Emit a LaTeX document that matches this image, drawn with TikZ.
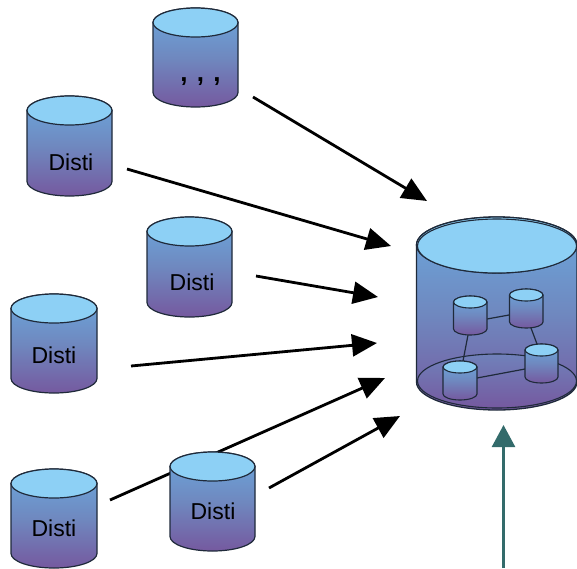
\documentclass[tikz,border=0pt]{standalone}
\usepackage{fontspec}
\setmainfont{Liberation Sans}
\usetikzlibrary{arrows.meta,calc}
\definecolor{capblue}{HTML}{8DD0F5}
\definecolor{bodytop}{HTML}{6BA9DE}
\definecolor{bodymid}{HTML}{6F88BF}
\definecolor{bodybot}{HTML}{75599F}
\definecolor{rimdark}{HTML}{1F2A3A}
\definecolor{teal}{HTML}{336B6B}
\tikzset{
  x=1pt,y=-1pt,
  cylbody/.style={draw=rimdark,top color=bodytop,bottom color=bodybot,middle color=bodymid},
  cylcap/.style={draw=rimdark,fill=capblue},
  anchorbox/.style={inner sep=0pt,outer sep=0pt},
  disti/.style={font=\fontsize{23}{23}\selectfont,text=black,inner sep=0pt},
  arr/.style={line width=2.8pt,draw=black,-{Triangle[length=25pt,width=22pt]}},
  tealarr/.style={line width=2.6pt,draw=teal,-{Triangle[length=22pt,width=23pt,fill=teal]}},
  link/.style={draw=rimdark,line width=1.2pt}
}
% name, left, right, top, bottom, ry, line width
\newcommand{\cylshape}[7]{%
  \pgfmathsetmacro{\cxv}{(#2+#3)/2}
  \pgfmathsetmacro{\cyv}{(#4+#5)/2}
  \pgfmathsetmacro{\rxv}{(#3-#2)/2}
  \pgfmathsetmacro{\wv}{#3-#2}
  \pgfmathsetmacro{\hv}{#5-#4}
  \draw[cylbody,line width=#7] (#2,#4+#6) -- (#2,#5-#6) arc[start angle=180,end angle=360,x radius=\rxv,y radius=-#6] -- (#3,#4+#6) arc[start angle=0,end angle=180,x radius=\rxv,y radius=-#6] -- cycle;
  \draw[cylcap,line width=#7] (\cxv,#4+#6) ellipse[x radius=\rxv,y radius=#6];
  \node[anchorbox,minimum width=\wv pt,minimum height=\hv pt] (#1) at (\cxv,\cyv) {};
}
\begin{document}
\begin{tikzpicture}
\useasboundingbox (0,0) rectangle (577,568);
% arrows that pass behind cylinders
\coordinate (s5) at (110,500);
\coordinate (e5) at (385,378);
\draw[arr] (s5) -- (e5);
% small cylinders
\cylshape{c0}{153}{238}{8}{107}{14.5}{1.2pt}
\cylshape{c1}{27}{112}{96}{196}{14.5}{1.2pt}
\cylshape{c2}{147}{232}{217}{317}{14.5}{1.2pt}
\cylshape{c3}{11}{97}{294}{393}{14.5}{1.2pt}
\cylshape{c4}{11}{97}{469}{568}{14.5}{1.2pt}
\cylshape{c5}{170}{255}{452}{551}{14.5}{1.2pt}
\node[disti] (l1) at (71,162) {Disti};
\node[disti] (l2) at (192,282) {Disti};
\node[disti] (l3) at (54,355) {Disti};
\node[disti] (l4) at (54,528) {Disti};
\node[disti] (l5) at (213,511) {Disti};
\node[inner sep=0pt,font=\fontsize{26}{26}\selectfont\bfseries] (dots) at (200.5,82) {,\hspace{9.3pt},\hspace{9.3pt},};
% big cylinder
\cylshape{big}{416.5}{577}{217}{410}{28}{1.3pt}
\draw[cylcap,line width=1.1pt] (497,246) ellipse[x radius=79.5,y radius=27];
\draw[draw=rimdark,line width=1.1pt,top color=bodymid!85!bodybot,bottom color=bodybot] (497,381) ellipse[x radius=79.5,y radius=27];
% inner network
\coordinate (ab1) at (487,319);
\coordinate (ab2) at (509,315);
\coordinate (ad1) at (468,335);
\coordinate (ad2) at (463,361);
\coordinate (bc1) at (531,328);
\coordinate (bc2) at (537,344);
\coordinate (cd1) at (525,369);
\coordinate (cd2) at (477,378);
\draw[link] (ab1) -- (ab2);
\draw[link] (ad1) -- (ad2);
\draw[link] (bc1) -- (bc2);
\draw[link] (cd1) -- (cd2);
\cylshape{na}{453.5}{487}{296}{335}{6}{1.1pt}
\cylshape{nb}{509.5}{543}{289}{328}{6}{1.1pt}
\cylshape{nc}{525}{558}{344}{383}{6}{1.1pt}
\cylshape{nd}{443}{477}{361}{400}{6}{1.1pt}
% arrows
\coordinate (s0) at (253,97);
\coordinate (e0) at (427,201);
\coordinate (s1) at (127,169);
\coordinate (e1) at (391,246);
\coordinate (s2) at (256,276);
\coordinate (e2) at (378,297);
\coordinate (s3) at (131,366);
\coordinate (e3) at (377,343);
\coordinate (s6) at (269,488);
\coordinate (e6) at (400,416);
\coordinate (s7) at (503.5,568);
\coordinate (e7) at (503.5,425);
\draw[arr] (s0) -- (e0);
\draw[arr] (s1) -- (e1);
\draw[arr] (s2) -- (e2);
\draw[arr] (s3) -- (e3);
\draw[arr] (s6) -- (e6);
\draw[tealarr] (s7) -- (e7);
\end{tikzpicture}
\end{document}
